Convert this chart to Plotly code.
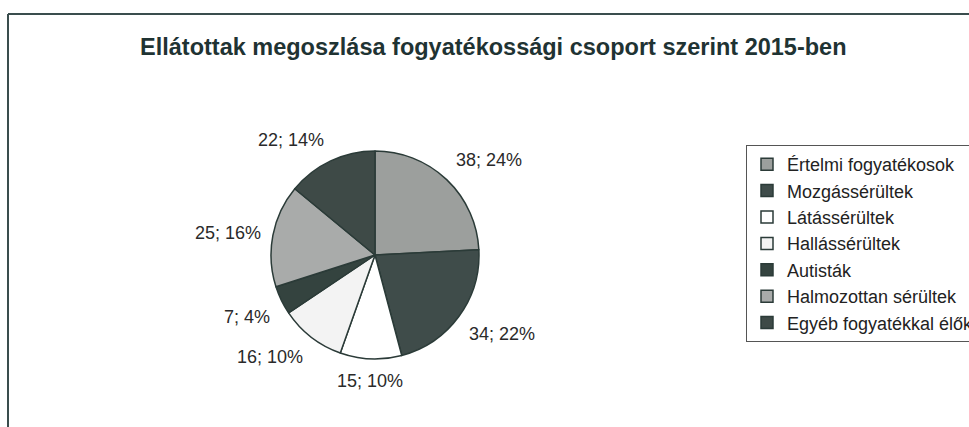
import math
import plotly.graph_objects as go

W, H = 969, 427

title = "Ellátottak megoszlása fogyatékossági csoport szerint 2015-ben"
categories = ["Értelmi fogyatékosok", "Mozgássérültek", "Látássérültek",
              "Hallássérültek", "Autisták", "Halmozottan sérültek",
              "Egyéb fogyatékkal élők"]
values = [38, 34, 15, 16, 7, 25, 22]
colors = ["#9c9f9d", "#3f4c4a", "#ffffff", "#f3f3f3", "#34433f", "#a9abaa", "#3e4a47"]

total = sum(values)
labels_txt = [f"{v}; {round(v / total * 100)}%" for v in values]

# pie geometry (pixels)
cx, cy, R = 375, 255, 104
dom_x = [(cx - R) / W, (cx + R) / W]
dom_y = [1 - (cy + R) / H, 1 - (cy - R) / H]

fig = go.Figure()
fig.add_trace(go.Pie(
    labels=categories, values=values, sort=False, direction="clockwise",
    rotation=0, textinfo="none", hoverinfo="label+value+percent",
    marker=dict(colors=colors, line=dict(color="#2b3b38", width=1.5)),
    domain=dict(x=dom_x, y=dom_y),
))

# data labels placed outside along each slice's mid-angle
annotations = []
cum = 0
for v, t in zip(values, labels_txt):
    mid = (cum + v / 2) / total * 2 * math.pi
    cum += v
    s, c = math.sin(mid), math.cos(mid)
    rr = R * 1.1
    px, py = cx + rr * s, cy - rr * c
    xa = "left" if s > 0.2 else ("right" if s < -0.2 else "center")
    ya = "bottom" if c > 0.3 else ("top" if c < -0.3 else "middle")
    annotations.append(dict(
        x=px / W, y=1 - py / H, xref="paper", yref="paper", text=t,
        showarrow=False, xanchor=xa, yanchor=ya,
        font=dict(family="Liberation Sans, Arial", size=18, color="#2a2a2a"),
    ))

annotations.append(dict(
    x=493 / W, y=1 - 47 / H, xref="paper", yref="paper", text="<b>" + title + "</b>",
    showarrow=False, xanchor="center", yanchor="middle",
    font=dict(family="Liberation Sans, Arial", size=23.5, color="#1f3333"),
))

fig.update_layout(
    width=W, height=H,
    margin=dict(l=0, r=0, t=0, b=0, autoexpand=False),
    paper_bgcolor="white", plot_bgcolor="white",
    annotations=annotations,
    showlegend=True,
    legend=dict(
        x=746 / W, y=1 - 145 / H, xanchor="left", yanchor="top",
        bgcolor="white", bordercolor="#555555", borderwidth=1,
        font=dict(family="Liberation Sans, Arial", size=18, color="#222222"),
        traceorder="normal",
    ),
    shapes=[
        dict(type="line", xref="paper", yref="paper", x0=8 / W, x1=1.02,
             y0=1 - 14 / H, y1=1 - 14 / H, line=dict(color="#3a4d4d", width=2)),
        dict(type="line", xref="paper", yref="paper", x0=8 / W, x1=8 / W,
             y0=1 - 14 / H, y1=-0.02, line=dict(color="#3a4d4d", width=2)),
    ],
)

fig.write_html("out.html")
